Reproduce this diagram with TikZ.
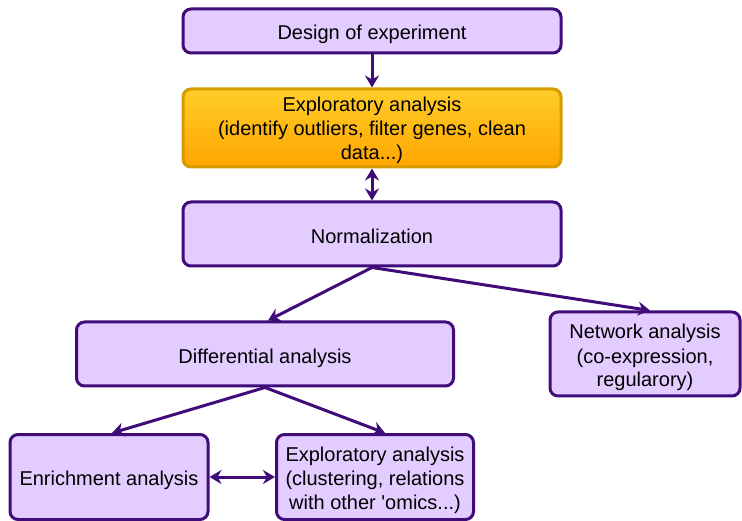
\documentclass[tikz,border=0pt]{standalone}
\usepackage{fontspec}
\setmainfont{Liberation Sans}
\usetikzlibrary{arrows.meta}
\definecolor{boxfill}{HTML}{E3CCFF}
\definecolor{boxline}{HTML}{3F0C7A}
\definecolor{hilitetop}{HTML}{FFCD28}
\definecolor{hilitebot}{HTML}{FFA500}
\definecolor{hiliteline}{HTML}{D79B00}

\begin{document}
\begin{tikzpicture}[x=1pt,y=-1pt,
    stage/.style={draw=boxline, fill=boxfill, line width=3pt, rounded corners=8pt,
        font=\fontsize{20}{24}\selectfont, align=center, inner sep=0pt,
        text height=18pt, text depth=0pt},
    tall/.style={text height=64pt},
    hilite/.style={stage, draw=hiliteline, top color=hilitetop, bottom color=hilitebot},
    link/.style={draw=boxline, line width=3pt, -{Stealth[length=12pt,width=14pt]}},
    twoway/.style={link, {Stealth[length=12pt,width=14pt]}-{Stealth[length=12pt,width=14pt]}}]
        \useasboundingbox (0,0) rectangle (742,521);
        \node[stage, minimum width=378, minimum height=44] (design) at (372,31) {Design of experiment};
        \node[hilite, tall, minimum width=378, minimum height=78] (explore) at (372,128)
            {Exploratory analysis\\(identify outliers, filter genes, clean\\data...)};
        \node[stage, text height=20pt, minimum width=378, minimum height=64] (norm) at (372,234) {Normalization};
        \node[stage, minimum width=377, minimum height=64] (diff) at (265,354) {Differential analysis};
        \node[stage, tall, text height=66pt, minimum width=190, minimum height=84] (network) at (645,354)
            {Network analysis\\(co-expression,\\regularory)};
        \node[stage, text height=16pt, minimum width=198, minimum height=85] (enrich) at (109,477) {Enrichment analysis};
        \node[stage, tall, minimum width=197, minimum height=85] (explore2) at (375,477)
            {Exploratory analysis\\(clustering, relations\\with other \textquotesingle omics...)};

        \draw[link] (design) -- (explore);
        \draw[twoway] (explore) -- (norm);
        \draw[link] (norm.south) -- ([xshift=3]diff.north);
        \draw[link] (norm.south) -- ([xshift=5]network.north);
        \draw[link] (diff.south) -- ([xshift=3]enrich.north);
        \draw[link] (diff.south) -- ([xshift=10]explore2.north);
        \draw[twoway] (enrich) -- (explore2);
    \end{tikzpicture}
\end{document}
